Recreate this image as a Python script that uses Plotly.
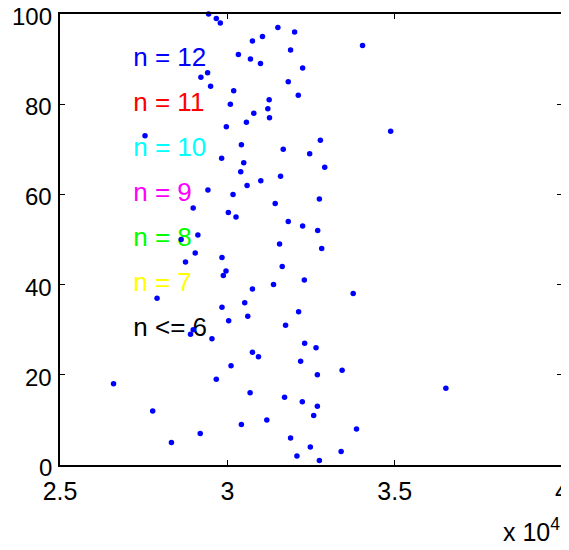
import plotly.graph_objects as go

# y values 1..100, x values (units of 1)
y_vals = list(range(1, 101))
x_vals = [
    32750, 32080, 33400, 32480, 28330, 31890, 29190, 33860, 30420, 31180,
    32580, 27770, 32690, 32240, 31710, 30680, 36530, 26600, 29670, 32690,
    33430, 30110, 32190, 30930, 30750, 32650, 32310, 29540, 28900, 28980,
    31740, 30040, 30610, 32130, 29840, 30520, 27900, 33760, 30750, 31380,
    32300, 29880, 29960, 31640, 28750, 29840, 29040, 32820, 31560, 28620,
    29120, 32700, 32250, 31820, 30260, 30030, 28980, 31430, 32750, 30170,
    29420, 30590, 31000, 31590, 30400, 32910, 30490, 29830, 32460, 31670,
    30420, 32780, 27540, 34880, 29970, 30570, 31260, 30790, 31210, 30090,
    31250, 32120, 30190, 29500, 31820, 29210, 29410, 32250, 30990, 30690,
    30330, 31890, 34040, 30750, 31050, 32010, 31510, 29790, 29670, 29440,
]

label_texts = ["n = 12", "n = 11", "n = 10", "n = 9", "n = 8", "n = 7", "n <= 6"]
label_colors = ["#0000ff", "#ff0000", "#00ffff", "#ff00ff", "#00ff00", "#ffff00", "#000000"]
label_y = [90, 80, 70, 60, 50, 40, 30]
label_x = 27190

x_tickvals = [25000, 30000, 35000, 40000]
x_ticktext = ["2.5", "3", "3.5", "4"]
y_tickvals = [0, 20, 40, 60, 80, 100]
y_ticktext = ["0", "20", "40", "60", "80", "100"]

FONT = "Liberation Sans, Arial, Helvetica, sans-serif"

fig = go.Figure()
fig.add_trace(go.Scatter(
    x=[label_x] * len(label_texts), y=label_y, text=label_texts,
    mode="text", textposition="middle right",
    textfont=dict(family=FONT, size=26, color=label_colors),
    hoverinfo="skip", showlegend=False, cliponaxis=False,
))
fig.add_trace(go.Scatter(
    x=x_vals, y=y_vals, mode="markers",
    marker=dict(color="#0000ff", size=5.5, line=dict(width=0)),
    showlegend=False, cliponaxis=False,
))

axis_common = dict(
    showline=True, linecolor="black", linewidth=1.5, mirror="ticks",
    ticks="inside", ticklen=5, tickwidth=1, tickcolor="black",
    showgrid=False, zeroline=False, automargin=False,
    ticklabeloverflow="allow",
)
fig.update_xaxes(range=[25000, 40000], tickvals=x_tickvals, ticktext=x_ticktext,
                 ticklabelstandoff=3,
                 tickfont=dict(family=FONT, size=25, color="black"), **axis_common)
# y tick labels are drawn as axis-anchored annotations (shifted slightly so "100" is not clipped)
fig.update_yaxes(range=[0, 100], tickvals=y_tickvals, showticklabels=False, **axis_common)
for v, t in zip(y_tickvals, y_ticktext):
    fig.add_annotation(xref="paper", yref="y", x=0, y=v, text=t,
                       xanchor="right", yanchor="middle", xshift=-6, yshift=-2.5,
                       showarrow=False, font=dict(family=FONT, size=24, color="black"))

fig.add_annotation(xref="paper", yref="paper", x=1.0, y=-0.105,
                   xanchor="right", yanchor="top", showarrow=False,
                   text="x 10<sup>4</sup>", font=dict(family=FONT, size=25, color="black"))
fig.add_annotation(xref="paper", yref="paper", x=0.133, y=-0.177,
                   xanchor="center", yanchor="top", showarrow=False,
                   text="n", font=dict(family=FONT, size=22, color="black"))

# page body has an 8px margin, so the figure is sized/offset to compensate
fig.update_layout(
    width=561, height=542,
    margin=dict(l=52, r=7, t=6, b=85),
    paper_bgcolor="white", plot_bgcolor="white",
)
fig.write_html("out.html")
